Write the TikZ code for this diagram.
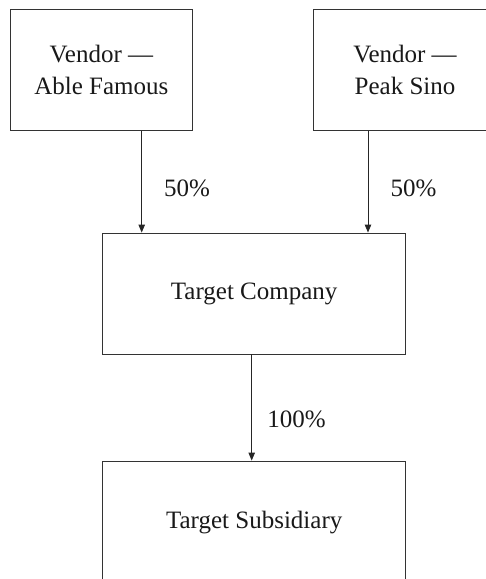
\documentclass[tikz,border=0pt]{standalone}
\usepackage{fontspec}
\setmainfont{Liberation Serif}
\usetikzlibrary{arrows.meta}
\begin{document}
\begin{tikzpicture}[x=1pt,y=-1pt,
  box/.style={draw=black!80,line width=0.9pt,align=center,inner sep=0pt,text=black!90,
    font=\fontsize{25}{32}\selectfont},
  lbl/.style={text=black!90,font=\fontsize{25}{30}\selectfont,inner sep=0pt},
  arr/.style={draw=black!85,line width=0.9pt,-{Triangle[length=8pt,width=6.5pt]}}]
\clip (0,0) rectangle (486,579);
\node[box,minimum width=181.3pt,minimum height=120.3pt] (A) at (101.4,69.9) {Vendor —\\Able Famous};
\node[box,minimum width=184pt,minimum height=120.3pt] (B) at (405,69.9) {Vendor —\\Peak Sino};
\node[box,minimum width=303pt,minimum height=121pt] (T) at (254.2,293.5) {Target Company};
\node[box,minimum width=303pt,minimum height=123pt] (S) at (254.2,522.5) {Target Subsidiary};
\coordinate (a1) at ([xshift=40.3pt]A.south);
\coordinate (b1) at ([xshift=-37pt]B.south);
\coordinate (t1) at ([xshift=-2.5pt]T.south);
\draw[arr] (a1) -- (a1 |- T.north);
\draw[arr] (b1) -- (b1 |- T.north);
\draw[arr] (t1) -- (t1 |- S.north);
\node[lbl] (l1) at (187,188) {50\%};
\node[lbl] (l2) at (413.5,188) {50\%};
\node[lbl] (l3) at (296.5,419) {100\%};
\end{tikzpicture}
\end{document}
